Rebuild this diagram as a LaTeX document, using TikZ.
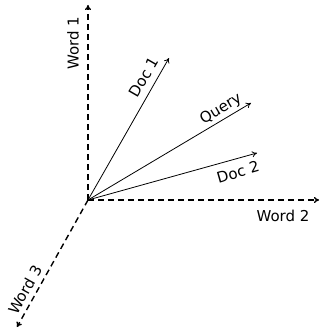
\documentclass[tikz,border=0pt]{standalone}
\usepackage{fontspec}
\setmainfont{DejaVu Sans}
\usetikzlibrary{arrows.meta}
\begin{document}
\begin{tikzpicture}[x=1pt,y=-1pt,
  axis/.style={line width=1.4pt, dash pattern=on 6pt off 4pt, -{To[length=5pt,width=6pt]}},
  vec/.style={line width=0.8pt, -{To[length=5pt,width=6pt]}},
  lbl/.style={font=\fontsize{15}{16}\selectfont, inner sep=0pt}]
\useasboundingbox (0,0) rectangle (320,329);
\coordinate (o) at (88,200);
\coordinate (w1) at (88,5);
\coordinate (w2) at (319,200);
\coordinate (w3) at (17,327);
\coordinate (d1) at (169,58);
\coordinate (q) at (251,103);
\coordinate (d2) at (257,153);
\draw[axis] (o) -- (w1);
\draw[axis] (o) -- (w2);
\draw[axis] (o) -- (w3);
\draw[vec] (o) -- (d1);
\draw[vec] (o) -- (q);
\draw[vec] (o) -- (d2);
\node[lbl, rotate=90] (lw1) at (73,43) {Word 1};
\node[lbl] (lw2) at (283,216) {Word 2};
\node[lbl, rotate=61] (lw3) at (25,290) {Word 3};
\node[lbl, rotate=60] (ld1) at (144,77) {Doc 1};
\node[lbl, rotate=31] (lq) at (221,109) {Query};
\node[lbl, rotate=16] (ld2) at (238,172) {Doc 2};
\end{tikzpicture}
\end{document}
